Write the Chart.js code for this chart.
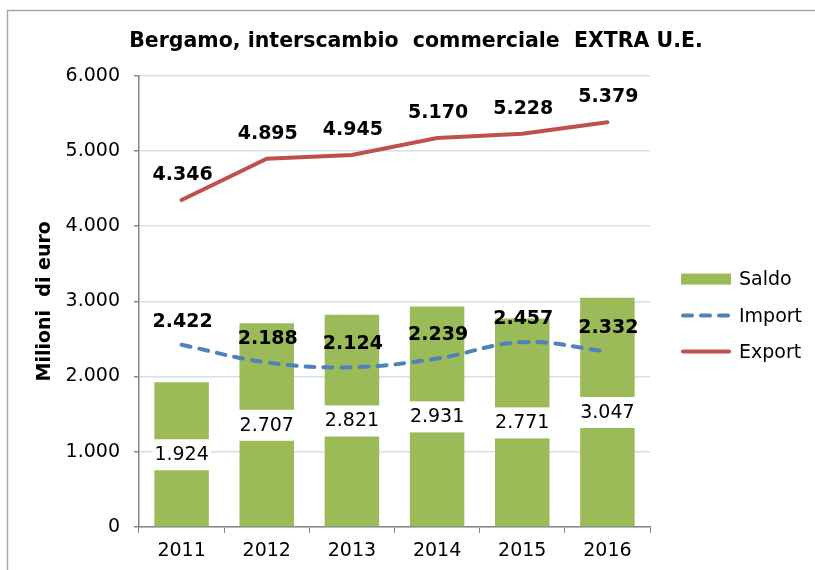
<!DOCTYPE html>
<html><head><meta charset="utf-8">
<script src="https://cdn.jsdelivr.net/npm/chart.js@4"></script>
<style>html,body{margin:0;padding:0;background:#fff;overflow:hidden}canvas{display:block}</style>
</head><body>
<canvas id="c" width="815" height="570"></canvas>
<script>
const categories = ['2011', '2012', '2013', '2014', '2015', '2016'];
const saldoValues = [1924, 2707, 2821, 2931, 2771, 3047];
const importValues = [2422, 2188, 2124, 2239, 2457, 2332];
const exportValues = [4346, 4895, 4945, 5170, 5228, 5379];
const seriesNames = ['Saldo', 'Import', 'Export'];
const yMin = 0, yMax = 6000, yStep = 1000;
const chartTitle = 'Bergamo, interscambio  commerciale  EXTRA U.E.';
const yTitle = 'Milioni  di euro';

function fmt(v) { return String(Math.round(v)).replace(/\B(?=(\d{3})+(?!\d))/g, '.'); }

const GREEN = '#9BBB59', BLUE = '#4F81BD', RED = '#C0504D', AXIS = '#868686', GRID = '#D5DFEE';
const FONT = 'DejaVu Sans';

const framePlugin = {
  id: 'frame',
  beforeDraw(chart) {
    const ctx = chart.ctx;
    ctx.save();
    ctx.fillStyle = '#fff';
    ctx.fillRect(0, 0, chart.width, chart.height);
    ctx.strokeStyle = '#A6A6A6';
    ctx.lineWidth = 1.5;
    ctx.beginPath();
    ctx.moveTo(7.5, chart.height);
    ctx.lineTo(7.5, 10.5);
    ctx.lineTo(chart.width, 10.5);
    ctx.stroke();
    ctx.restore();
  }
};

const valueLabels = {
  id: 'valueLabels',
  afterDatasetDraw(chart, args) {
    if (args.index !== 0) return;
    const ctx = chart.ctx;
    ctx.save();
    ctx.font = '19px "' + FONT + '"';
    ctx.textAlign = 'center';
    ctx.textBaseline = 'middle';
    args.meta.data.forEach((el, i) => {
      const txt = fmt(saldoValues[i]);
      const w = ctx.measureText(txt).width + 4;
      const cy = (el.y + el.base) / 2;
      ctx.fillStyle = '#fff';
      ctx.fillRect(el.x - w / 2, cy - 15, w, 31);
      ctx.fillStyle = '#000';
      ctx.fillText(txt, el.x, cy + 1);
    });
    ctx.restore();
  },
  afterDatasetsDraw(chart) {
    const ctx = chart.ctx;
    ctx.save();
    ctx.font = 'bold 19px "' + FONT + '"';
    ctx.textAlign = 'center';
    ctx.textBaseline = 'middle';
    ctx.fillStyle = '#000';
    const imp = chart.getDatasetMeta(1).data;
    imp.forEach((el, i) => ctx.fillText(fmt(importValues[i]), el.x + 1, el.y - 23));
    const exp = chart.getDatasetMeta(2).data;
    exp.forEach((el, i) => ctx.fillText(fmt(exportValues[i]), el.x + 1, el.y - 25));
    ctx.restore();
  }
};

const customLegend = {
  id: 'customLegend',
  afterDraw(chart) {
    const ctx = chart.ctx;
    const a = chart.chartArea;
    const x0 = a.right + 31;
    const ys = [a.top + 203, a.top + 240, a.top + 276];
    ctx.save();
    ctx.font = '19px "' + FONT + '"';
    ctx.textAlign = 'left';
    ctx.textBaseline = 'middle';
    ctx.fillStyle = GREEN;
    ctx.fillRect(x0, ys[0] - 5, 50, 11);
    ctx.strokeStyle = BLUE;
    ctx.lineWidth = 4;
    ctx.lineCap = 'round';
    ctx.setLineDash([9, 9]);
    ctx.beginPath(); ctx.moveTo(x0 + 2, ys[1]); ctx.lineTo(x0 + 48, ys[1]); ctx.stroke();
    ctx.setLineDash([]);
    ctx.strokeStyle = RED;
    ctx.beginPath(); ctx.moveTo(x0 + 2, ys[2]); ctx.lineTo(x0 + 48, ys[2]); ctx.stroke();
    ctx.fillStyle = '#000';
    seriesNames.forEach((n, i) => ctx.fillText(n, x0 + 58, ys[i] + 1));
    ctx.restore();
  }
};

new Chart(document.getElementById('c'), {
  data: {
    labels: categories,
    datasets: [
      { type: 'bar', label: seriesNames[0], data: saldoValues, backgroundColor: GREEN,
        barPercentage: 0.64, categoryPercentage: 1, order: 3 },
      { type: 'line', label: seriesNames[1], data: importValues, borderColor: BLUE, borderWidth: 4,
        borderDash: [9, 9], borderCapStyle: 'round', tension: 0.4, pointRadius: 0, fill: false, order: 2 },
      { type: 'line', label: seriesNames[2], data: exportValues, borderColor: RED, borderWidth: 4,
        borderCapStyle: 'round', tension: 0, pointRadius: 0, fill: false, order: 1 }
    ]
  },
  options: {
    responsive: false,
    animation: false,
    devicePixelRatio: 1,
    layout: { padding: { left: 17, right: 0, top: 0, bottom: 0 } },
    plugins: {
      legend: { display: false },
      tooltip: { enabled: false },
      title: {
        display: true, text: chartTitle, color: '#000',
        font: { family: FONT, size: 20.5, weight: 'bold' },
        padding: { top: 29, bottom: 22 }
      }
    },
    scales: {
      x: {
        position: 'bottom',
        grid: { display: true, drawOnChartArea: false, drawTicks: true, tickLength: 6, tickColor: AXIS, offset: true },
        border: { display: true, color: AXIS, width: 1.5 },
        ticks: { color: '#000', font: { family: FONT, size: 19 }, padding: 7, maxRotation: 0 },
        afterFit(s) { s.height = 43; }
      },
      y: {
        position: 'left',
        min: yMin, max: yMax,
        ticks: { stepSize: yStep, color: '#000', font: { family: FONT, size: 19 }, padding: 14,
          callback: v => fmt(v) },
        grid: { color: GRID, lineWidth: 1.5, tickLength: 5, tickColor: AXIS },
        border: { display: true, color: AXIS, width: 1.5 },
        title: { display: true, text: yTitle, color: '#000', font: { family: FONT, size: 19, weight: 'bold' },
          padding: { top: 17, bottom: 0 } },
        afterFit(s) { s.width = 122; }
      },
      y2: {
        position: 'right',
        display: true,
        grid: { display: false, drawTicks: false },
        border: { display: false },
        ticks: { display: false },
        afterFit(s) { s.width = 165; }
      }
    }
  },
  plugins: [framePlugin, valueLabels, customLegend]
});
</script>
</body></html>
